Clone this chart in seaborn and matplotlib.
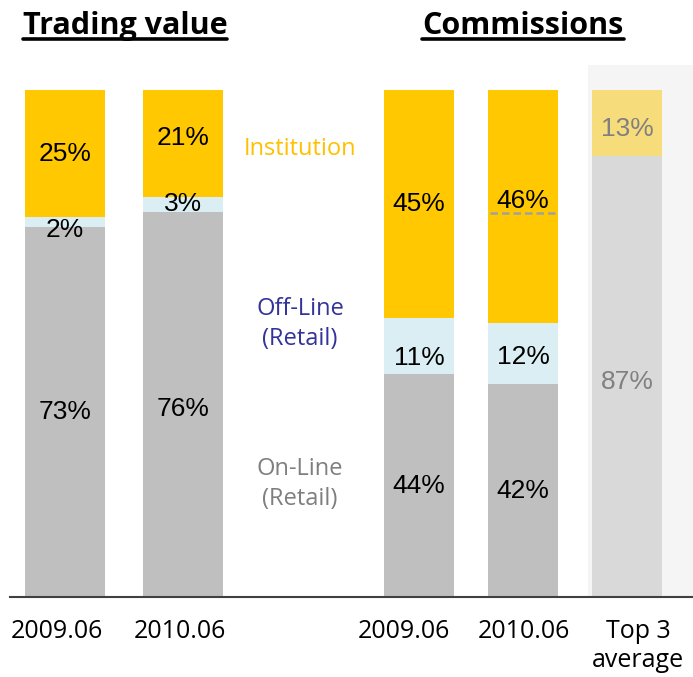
import matplotlib
matplotlib.use("Agg")
import matplotlib.pyplot as plt
import seaborn as sns
from matplotlib.lines import Line2D

# data
trade_labels = ["2009.06", "2010.06"]
trade_online = [73, 76]
trade_offline = [2, 3]
trade_inst = [25, 21]

comm_labels = ["2009.06", "2010.06", "Top 3\naverage"]
comm_online = [44, 42, 87]
comm_offline = [11, 12, 0]
comm_inst = [45, 46, 13]

# colours
C_ON, C_OFF, C_INST = "#BFBFBF", "#DAEEF3", "#FFC800"
C_ON_T3, C_INST_T3 = "#D9D9D9", "#F7DC7C"

sns.set_theme(style="white")
plt.rcParams["font.family"] = ["Open Sans", "DejaVu Sans"]

fig = plt.figure(figsize=(6.93, 6.77), dpi=100)
ax = fig.add_axes([10 / 693, 80 / 677, 683 / 693, 532 / 677])
ax.set_xlim(10, 693)
ax.set_ylim(0, 105)

# layout (pixel x positions)
trade_x = [65, 183]
comm_x = [419, 523, 627]
trade_tick_x = [57, 180]
comm_tick_x = [404, 524, 638]

# small vertical nudges for some labels (bar index, segment) -> data units
nudge = {(0, 1): -1.6, (1, 0): -0.9, (1, 2): 1.0, (2, 1): -2.3, (3, 2): 1.1,
         (3, 1): -0.7, (4, 0): -1.0, (4, 2): -1.2}

# grey background behind the top-3 bar
ax.axvspan(588, 693, color="#F5F5F5", lw=0, zorder=0)


def stack(xs, online, offline, inst, width, on_cols, off_cols, inst_cols):
    totals = [a + b + c for a, b, c in zip(online, offline, inst)]
    mids = [a + b for a, b in zip(online, offline)]
    names = [str(x) for x in xs]
    for vals, cols in [(totals, inst_cols), (mids, off_cols), (online, on_cols)]:
        sns.barplot(x=xs, y=vals, hue=names, palette=cols, native_scale=True,
                    width=width, dodge=False, legend=False, saturation=1,
                    errorbar=None, linewidth=0, ax=ax, zorder=2)


stack(trade_x, trade_online, trade_offline, trade_inst, 80 / 118,
      [C_ON] * 2, [C_OFF] * 2, [C_INST] * 2)
stack(comm_x, comm_online, comm_offline, comm_inst, 70 / 104,
      [C_ON, C_ON, C_ON_T3], [C_OFF] * 3, [C_INST, C_INST, C_INST_T3])

# percentage labels
lab_font = dict(family="Liberation Sans", fontsize=19, ha="center", va="center", zorder=5)
i = 0
for xs, on, off, ins, tcol in [
    (trade_x, trade_online, trade_offline, trade_inst, ["#000000"] * 2),
    (comm_x, comm_online, comm_offline, comm_inst, ["#000000", "#000000", "#808080"]),
]:
    for x, a, b, c, col in zip(xs, on, off, ins, tcol):
        ax.text(x, a / 2 + nudge.get((i, 0), 0), f"{a}%", color=col, **lab_font)
        if b > 0:
            ax.text(x, a + b / 2 + nudge.get((i, 1), 0), f"{b}%", color=col, **lab_font)
        ax.text(x, a + b + c / 2 + nudge.get((i, 2), 0), f"{c}%", color=col, **lab_font)
        i += 1

# dashed marker in the 2010 commissions bar
ax.plot([490, 556], [75.7, 75.7], ls=(0, (3, 1.6)), color="#A0A0A0", lw=1.8, zorder=4)

# series names between the groups
ax.text(300, 88.5, "Institution", color="#FFC000", fontsize=17, ha="center", va="center")
ax.text(300, 53.9, "Off-Line\n(Retail)", color="#333399", fontsize=17, ha="center",
        va="center", linespacing=1.3)
ax.text(300, 22.3, "On-Line\n(Retail)", color="#7F7F7F", fontsize=17, ha="center",
        va="center", linespacing=1.35)

# axes styling
sns.despine(ax=ax, left=True, top=True, right=True)
ax.spines["bottom"].set_color("#404040")
ax.spines["bottom"].set_linewidth(1.5)
ax.set_yticks([])
ax.set_xticks(trade_tick_x + comm_tick_x)
ax.set_xticklabels(trade_labels + comm_labels, fontsize=18, linespacing=1.2)
ax.tick_params(axis="x", length=0, pad=16, colors="#000000")
ax.set_xlabel("")
ax.set_ylabel("")

# underlined titles
titles = []
for cx, txt in [(125, "Trading value"), (523, "Commissions")]:
    titles.append(fig.text(cx / 693, 1 - 26 / 677, txt, fontsize=22, fontweight="bold",
                           ha="center", va="center", color="#000000"))
fig.canvas.draw()
r = fig.canvas.get_renderer()
for t in titles:
    bb = t.get_window_extent(r)
    y = 1 - 38.5 / 677
    fig.add_artist(Line2D([bb.x0 / 693, bb.x1 / 693], [y, y], color="#000000", lw=2.6,
                          transform=fig.transFigure))

fig.savefig("out.png", dpi=100)
